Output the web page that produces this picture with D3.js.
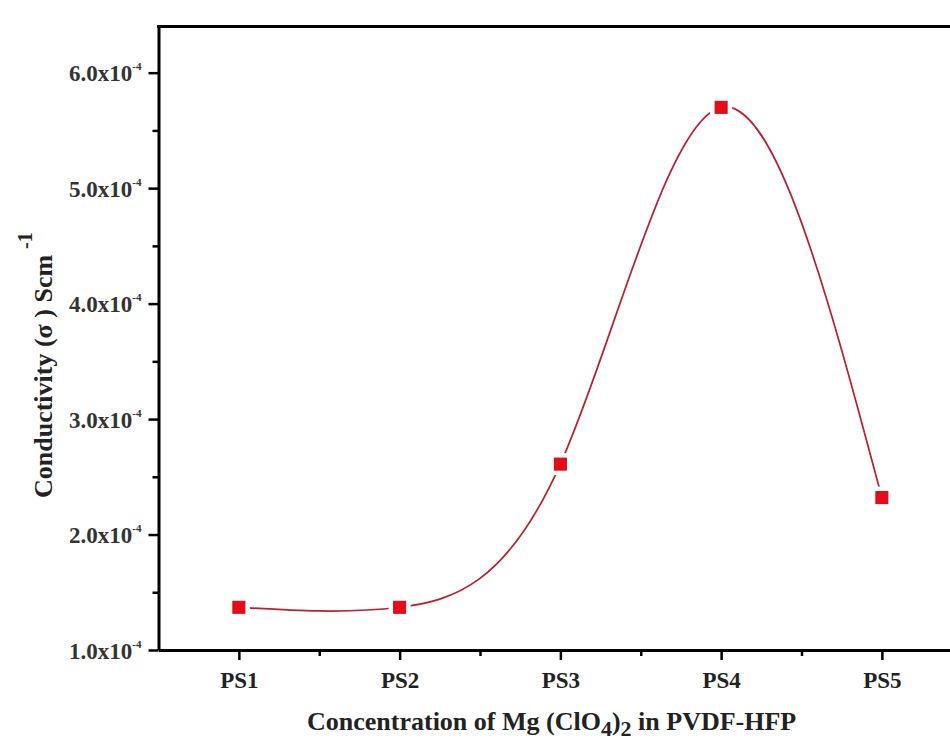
<!DOCTYPE html>
<html><head><meta charset="utf-8">
<script src="https://cdn.jsdelivr.net/npm/d3@7"></script>
<style>body{margin:0;background:#fff}svg{display:block}</style>
</head><body>
<script>
const categories = ["PS1","PS2","PS3","PS4","PS5"];
const conductivity = [1.37, 1.37, 2.61, 5.70, 2.32]; // in units of 1e-4 S/cm
const yTicks = [1, 2, 3, 4, 5, 6];
const yMinorTicks = [1.5, 2.5, 3.5, 4.5, 5.5];
const yTickMantissa = ["1.0", "2.0", "3.0", "4.0", "5.0", "6.0"];
const yTickExponent = "-4";
const xMinorTicks = [1.5, 2.5, 3.5, 4.5];

const W = 950, H = 742;
const svg = d3.select("body").append("svg").attr("width", W).attr("height", H);
const font = "'Liberation Serif','Times New Roman',serif";

const x = d3.scaleLinear().domain([0.5, 5.5]).range([158.5, 962.25]);
const y = d3.scaleLinear().domain([1.0, 6.4]).range([650, 26.5]);

// Line (spline)
const pts = categories.map((c, i) => [x(i + 1), y(conductivity[i])]);
svg.append("path")
  .attr("d", d3.line().curve(d3.curveNatural)(pts))
  .attr("fill", "none").attr("stroke", "#b8202c").attr("stroke-width", 1.7);

// gaps around markers
svg.selectAll("rect.gap").data(pts).join("rect")
  .attr("x", d => d[0] - 11).attr("y", d => d[1] - 11)
  .attr("width", 22).attr("height", 22).attr("fill", "#fff");
svg.selectAll("rect.mk").data(pts).join("rect")
  .attr("x", d => d[0] - 6).attr("y", d => d[1] - 6)
  .attr("width", 12).attr("height", 12)
  .attr("fill", "#ec0a14").attr("stroke", "#c0101a").attr("stroke-width", 1);

// Axes
const xAxis = svg.append("g").attr("transform", "translate(0,650)")
  .call(d3.axisBottom(x).tickValues(categories.map((c, i) => i + 1))
    .tickFormat((d, i) => categories[i]).tickSize(10).tickSizeOuter(0));
xAxis.select(".domain").attr("stroke-width", 3);
xAxis.selectAll(".tick line").attr("stroke-width", 2.5);
xAxis.selectAll(".tick text").attr("dy", null).attr("y", 38)
  .attr("font-family", font).attr("font-weight", "bold").attr("font-size", 23).attr("fill", "#222");

svg.append("g").attr("transform", "translate(0,650)")
  .call(d3.axisBottom(x).tickValues(xMinorTicks).tickFormat("").tickSize(6).tickSizeOuter(0))
  .call(g => g.select(".domain").remove())
  .selectAll(".tick line").attr("stroke-width", 2.5);

const yAxis = svg.append("g").attr("transform", "translate(158.5,0)")
  .call(d3.axisLeft(y).tickValues(yTicks).tickFormat("").tickSize(10).tickSizeOuter(0));
yAxis.select(".domain").attr("stroke-width", 3);
yAxis.selectAll(".tick line").attr("stroke-width", 2.5);
yAxis.selectAll(".tick").each(function(d, i) {
  const t = d3.select(this).append("text")
    .attr("x", -17).attr("y", 8).attr("text-anchor", "end")
    .attr("font-family", font).attr("font-weight", "bold").attr("font-size", 23).attr("fill", "#333");
  t.append("tspan").text(yTickMantissa[i] + "x10");
  t.append("tspan").attr("dy", -11).attr("font-size", 11).text(yTickExponent);
});

svg.append("g").attr("transform", "translate(158.5,0)")
  .call(d3.axisLeft(y).tickValues(yMinorTicks).tickFormat("").tickSize(6).tickSizeOuter(0))
  .call(g => g.select(".domain").remove())
  .selectAll(".tick line").attr("stroke-width", 2.5);

// top frame line
svg.append("line").attr("x1", 157).attr("x2", W).attr("y1", y(6.4)).attr("y2", y(6.4))
  .attr("stroke", "#000").attr("stroke-width", 3);

// X title
const xt = svg.append("text").attr("x", 307).attr("y", 730)
  .attr("font-family", font).attr("font-weight", "bold").attr("font-size", 26).attr("fill", "#222");
xt.append("tspan").text("Concentration of Mg (ClO");
xt.append("tspan").attr("dy", 6).attr("font-size", 22).text("4");
xt.append("tspan").attr("dy", -6).text(")");
xt.append("tspan").attr("dy", 6).attr("font-size", 22).text("2");
xt.append("tspan").attr("dy", -6).text(" in PVDF-HFP");

// Y title
const yt = svg.append("text").attr("transform", "translate(52,498) rotate(-90)")
  .attr("font-family", font).attr("font-weight", "bold").attr("font-size", 26).attr("fill", "#222");
yt.append("tspan").text("Conductivity (σ ) Scm");
yt.append("tspan").attr("dy", -20).attr("dx", 6).attr("font-size", 20).text("-1");
</script>
</body></html>
